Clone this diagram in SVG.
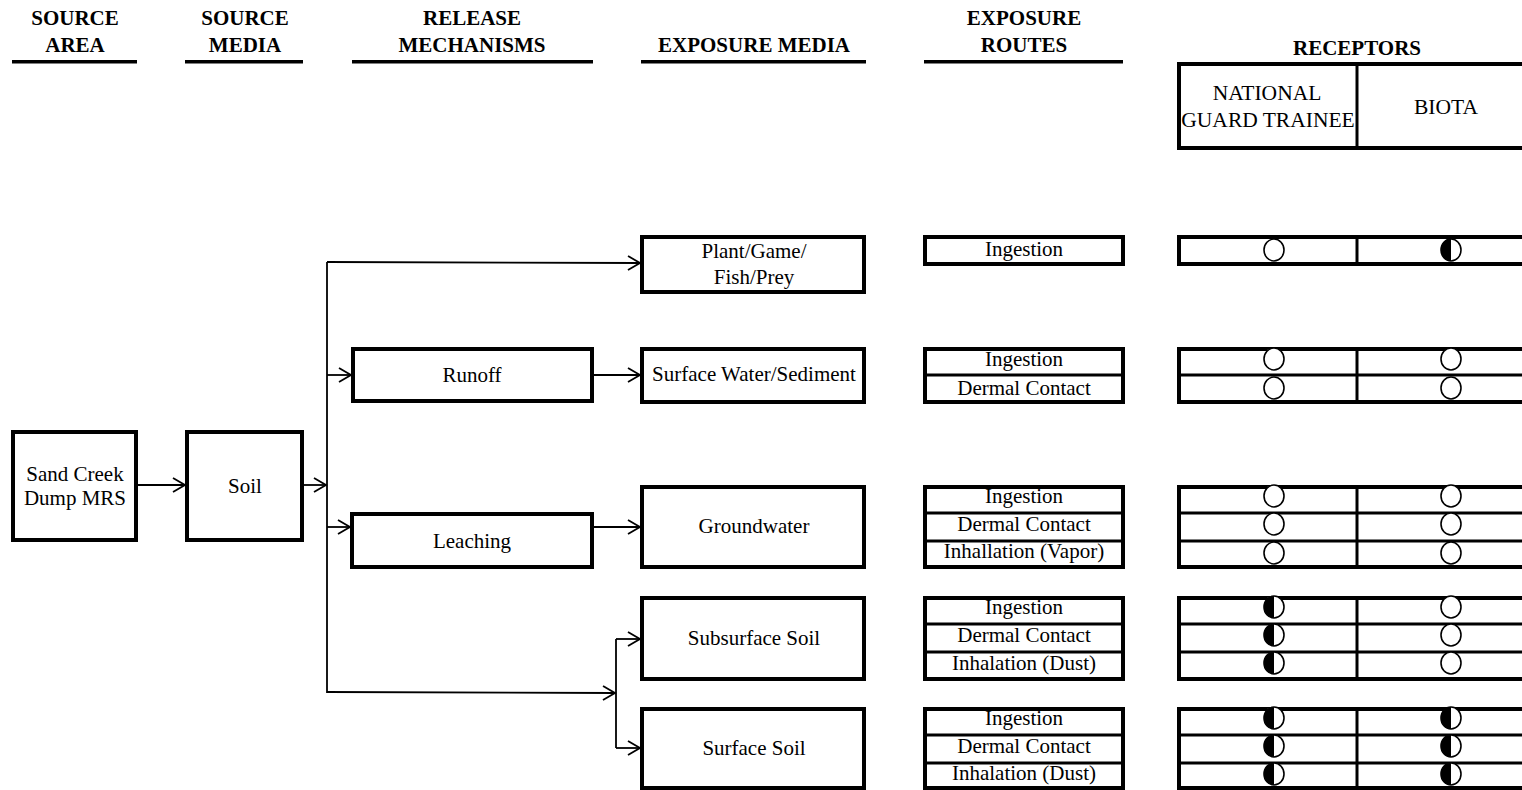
<svg xmlns="http://www.w3.org/2000/svg" width="1522" height="790" viewBox="0 0 1522 790">
  <style>
    text { font-family: "Liberation Serif", "Times New Roman", serif; fill: #000; }
    .hdr { font-size: 21px; font-weight: bold; text-anchor: middle; }
    .lbl { font-size: 21px; text-anchor: middle; }
    .box { fill: #fff; stroke: #000; stroke-width: 4; }
    .div { stroke: #000; stroke-width: 3; fill: none; }
    .rule { fill: #000; }
    .wire { stroke: #000; stroke-width: 1.8; fill: none; }
    .wire.arrow { marker-end: url(#chev); }
    .dot { fill: #fff; stroke: #000; stroke-width: 1.6; }
  </style>
  <defs>
    <marker id="chev" markerUnits="userSpaceOnUse" markerWidth="16" markerHeight="18" viewBox="-14 -9 16 18" refX="0" refY="0" orient="auto">
      <path d="M-12,-7 L0,0 L-12,7" fill="none" stroke="#000" stroke-width="1.8"/>
    </marker>
    <!-- open circle -->
    <symbol id="open" viewBox="-12 -12 24 24" overflow="visible">
      <ellipse cx="0" cy="0" rx="10" ry="11" fill="#fff" stroke="#000" stroke-width="1.6"/>
    </symbol>
    <!-- half-filled circle (left half black) -->
    <symbol id="half" viewBox="-12 -12 24 24" overflow="visible">
      <ellipse cx="0" cy="0" rx="10" ry="11" fill="#fff" stroke="#000" stroke-width="1.6"/>
      <path d="M0,-11 A10,11 0 0 0 0,11 Z" fill="#000"/>
    </symbol>
  </defs>

  <rect width="1522" height="790" fill="#fff"/>

  <!-- column headers -->
  <g id="headers">
    <text class="hdr" x="75" y="25">SOURCE</text>
    <text class="hdr" x="75" y="52">AREA</text>
    <rect class="rule" x="12" y="60" width="125" height="3.5"/>

    <text class="hdr" x="245" y="25">SOURCE</text>
    <text class="hdr" x="245" y="52">MEDIA</text>
    <rect class="rule" x="185" y="60" width="118" height="3.5"/>

    <text class="hdr" x="472" y="25">RELEASE</text>
    <text class="hdr" x="472" y="52">MECHANISMS</text>
    <rect class="rule" x="352" y="60" width="241" height="3.5"/>

    <text class="hdr" x="754" y="52">EXPOSURE MEDIA</text>
    <rect class="rule" x="641" y="60" width="225" height="3.5"/>

    <text class="hdr" x="1024" y="25">EXPOSURE</text>
    <text class="hdr" x="1024" y="52">ROUTES</text>
    <rect class="rule" x="924" y="60" width="199" height="3.5"/>

    <text class="hdr" x="1357" y="55">RECEPTORS</text>
  </g>

  <!-- receptor header table -->
  <g id="receptor-header">
    <rect class="box" x="1179" y="64" width="400" height="84"/>
    <line class="div" x1="1357" y1="64" x2="1357" y2="148"/>
    <text class="lbl" x="1267" y="100" style="font-size:21.5px">NATIONAL</text>
    <text class="lbl" x="1268" y="127" style="font-size:21.5px">GUARD TRAINEE</text>
    <text class="lbl" x="1446" y="114" style="font-size:21.5px">BIOTA</text>
  </g>

  <!-- connectors -->
  <g id="connectors">
    <line class="wire arrow" x1="138" y1="485" x2="185" y2="485"/>
    <line class="wire arrow" x1="304" y1="485" x2="326" y2="485"/>
    <line class="wire" x1="327" y1="262" x2="327" y2="693"/>
    <line class="wire arrow" x1="327" y1="262" x2="640" y2="263"/>
    <line class="wire arrow" x1="327" y1="375" x2="351" y2="375"/>
    <line class="wire arrow" x1="327" y1="527" x2="350" y2="527"/>
    <line class="wire arrow" x1="594" y1="375" x2="640" y2="375"/>
    <line class="wire arrow" x1="594" y1="527" x2="640" y2="527"/>
    <line class="wire arrow" x1="327" y1="692" x2="615" y2="693"/>
    <line class="wire" x1="616" y1="639" x2="616" y2="748"/>
    <line class="wire arrow" x1="616" y1="639" x2="640" y2="639"/>
    <line class="wire arrow" x1="616" y1="748" x2="640" y2="748"/>
  </g>

  <!-- source area -->
  <g id="node-sand-creek">
    <rect class="box" x="13" y="432" width="123" height="108"/>
    <text class="lbl" x="75" y="481">Sand Creek</text>
    <text class="lbl" x="75" y="505">Dump MRS</text>
  </g>

  <!-- source media -->
  <g id="node-soil">
    <rect class="box" x="187" y="432" width="115" height="108"/>
    <text class="lbl" x="245" y="493">Soil</text>
  </g>

  <!-- release mechanisms -->
  <g id="node-runoff">
    <rect class="box" x="353" y="349" width="239" height="52"/>
    <text class="lbl" x="472" y="382">Runoff</text>
  </g>
  <g id="node-leaching">
    <rect class="box" x="352" y="514" width="240" height="53"/>
    <text class="lbl" x="472" y="548">Leaching</text>
  </g>

  <!-- exposure media -->
  <g id="node-plant">
    <rect class="box" x="642" y="237" width="222" height="55"/>
    <text class="lbl" x="754" y="258">Plant/Game/</text>
    <text class="lbl" x="754" y="284">Fish/Prey</text>
  </g>
  <g id="node-surface-water">
    <rect class="box" x="642" y="349" width="222" height="53"/>
    <text class="lbl" x="754" y="381">Surface Water/Sediment</text>
  </g>
  <g id="node-groundwater">
    <rect class="box" x="642" y="487" width="222" height="80"/>
    <text class="lbl" x="754" y="533">Groundwater</text>
  </g>
  <g id="node-subsurface-soil">
    <rect class="box" x="642" y="598" width="222" height="81"/>
    <text class="lbl" x="754" y="645">Subsurface Soil</text>
  </g>
  <g id="node-surface-soil">
    <rect class="box" x="642" y="709" width="222" height="79"/>
    <text class="lbl" x="754" y="755">Surface Soil</text>
  </g>

  <!-- exposure routes -->
  <g id="routes-plant">
    <rect class="box" x="925" y="237" width="198" height="27"/>
    <text class="lbl" x="1024" y="256">Ingestion</text>
  </g>
  <g id="routes-surface-water">
    <rect class="box" x="925" y="349" width="198" height="53"/>
    <line class="div" x1="925" y1="375" x2="1123" y2="375"/>
    <text class="lbl" x="1024" y="366">Ingestion</text>
    <text class="lbl" x="1024" y="395">Dermal Contact</text>
  </g>
  <g id="routes-groundwater">
    <rect class="box" x="925" y="487" width="198" height="80"/>
    <line class="div" x1="925" y1="513" x2="1123" y2="513"/>
    <line class="div" x1="925" y1="541" x2="1123" y2="541"/>
    <text class="lbl" x="1024" y="503">Ingestion</text>
    <text class="lbl" x="1024" y="531">Dermal Contact</text>
    <text class="lbl" x="1024" y="558">Inhallation (Vapor)</text>
  </g>
  <g id="routes-subsurface-soil">
    <rect class="box" x="925" y="598" width="198" height="81"/>
    <line class="div" x1="925" y1="624" x2="1123" y2="624"/>
    <line class="div" x1="925" y1="652" x2="1123" y2="652"/>
    <text class="lbl" x="1024" y="614">Ingestion</text>
    <text class="lbl" x="1024" y="642">Dermal Contact</text>
    <text class="lbl" x="1024" y="670">Inhalation (Dust)</text>
  </g>
  <g id="routes-surface-soil">
    <rect class="box" x="925" y="709" width="198" height="79"/>
    <line class="div" x1="925" y1="735" x2="1123" y2="735"/>
    <line class="div" x1="925" y1="763" x2="1123" y2="763"/>
    <text class="lbl" x="1024" y="725">Ingestion</text>
    <text class="lbl" x="1024" y="753">Dermal Contact</text>
    <text class="lbl" x="1024" y="780">Inhalation (Dust)</text>
  </g>

  <!-- receptor evaluation rows -->
  <g id="receptors-plant">
    <rect class="box" x="1179" y="237" width="400" height="27"/>
    <line class="div" x1="1357" y1="237" x2="1357" y2="264"/>
    <use href="#open" x="1262" y="238" width="24" height="24"/>
    <use href="#half" x="1439" y="238" width="24" height="24"/>
  </g>
  <g id="receptors-surface-water">
    <rect class="box" x="1179" y="349" width="400" height="53"/>
    <line class="div" x1="1357" y1="349" x2="1357" y2="402"/>
    <line class="div" x1="1179" y1="375" x2="1522" y2="375"/>
    <use href="#open" x="1262" y="347" width="24" height="24"/>
    <use href="#open" x="1439" y="347" width="24" height="24"/>
    <use href="#open" x="1262" y="376" width="24" height="24"/>
    <use href="#open" x="1439" y="376" width="24" height="24"/>
  </g>
  <g id="receptors-groundwater">
    <rect class="box" x="1179" y="487" width="400" height="80"/>
    <line class="div" x1="1357" y1="487" x2="1357" y2="567"/>
    <line class="div" x1="1179" y1="513" x2="1522" y2="513"/>
    <line class="div" x1="1179" y1="541" x2="1522" y2="541"/>
    <use href="#open" x="1262" y="484" width="24" height="24"/>
    <use href="#open" x="1439" y="484" width="24" height="24"/>
    <use href="#open" x="1262" y="512" width="24" height="24"/>
    <use href="#open" x="1439" y="512" width="24" height="24"/>
    <use href="#open" x="1262" y="541" width="24" height="24"/>
    <use href="#open" x="1439" y="541" width="24" height="24"/>
  </g>
  <g id="receptors-subsurface-soil">
    <rect class="box" x="1179" y="598" width="400" height="81"/>
    <line class="div" x1="1357" y1="598" x2="1357" y2="679"/>
    <line class="div" x1="1179" y1="624" x2="1522" y2="624"/>
    <line class="div" x1="1179" y1="652" x2="1522" y2="652"/>
    <use href="#half" x="1262" y="595" width="24" height="24"/>
    <use href="#open" x="1439" y="595" width="24" height="24"/>
    <use href="#half" x="1262" y="623" width="24" height="24"/>
    <use href="#open" x="1439" y="623" width="24" height="24"/>
    <use href="#half" x="1262" y="651" width="24" height="24"/>
    <use href="#open" x="1439" y="651" width="24" height="24"/>
  </g>
  <g id="receptors-surface-soil">
    <rect class="box" x="1179" y="709" width="400" height="79"/>
    <line class="div" x1="1357" y1="709" x2="1357" y2="788"/>
    <line class="div" x1="1179" y1="735" x2="1522" y2="735"/>
    <line class="div" x1="1179" y1="763" x2="1522" y2="763"/>
    <use href="#half" x="1262" y="706" width="24" height="24"/>
    <use href="#half" x="1439" y="706" width="24" height="24"/>
    <use href="#half" x="1262" y="734" width="24" height="24"/>
    <use href="#half" x="1439" y="734" width="24" height="24"/>
    <use href="#half" x="1262" y="762" width="24" height="24"/>
    <use href="#half" x="1439" y="762" width="24" height="24"/>
  </g>
</svg>
